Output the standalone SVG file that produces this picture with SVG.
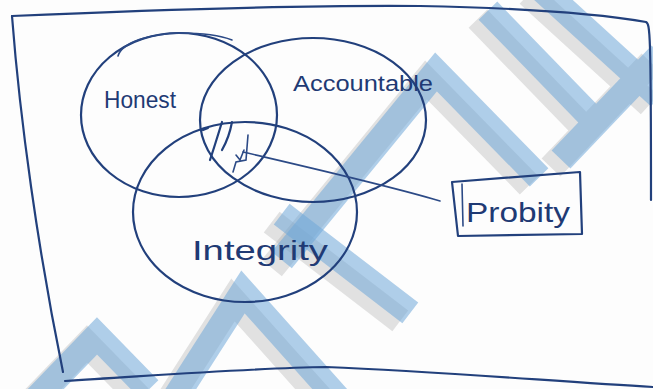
<svg xmlns="http://www.w3.org/2000/svg" width="653" height="389" viewBox="0 0 653 389">
  <defs>
    <style>
      .ink { fill: none; stroke: #22407c; stroke-width: 2.2; stroke-linecap: round; stroke-linejoin: round; }
      .thin { fill: none; stroke: #2c4a86; stroke-width: 1.6; stroke-linecap: round; }
      .label { font-family: "Liberation Sans", "DejaVu Sans", sans-serif; fill: #1f3a74; }
      .wm { stroke: #6fa8d9; stroke-opacity: 0.55; fill: none; stroke-linecap: square; stroke-linejoin: miter; stroke-width: 26; }
      .wg { stroke: #9a9a9a; stroke-opacity: 0.28; fill: none; stroke-linecap: square; stroke-linejoin: miter; stroke-width: 26; }
    </style>
    <g id="bands">
      <path d="M497 20 L592 118 M548 -5 L650 88 M652 64 L570 150"/>
      <path d="M290 250 L436 72 L530 168"/>
      <path d="M292 222 L400 305"/>
      <path d="M177 395 L243 292 L335 395"/>
      <path d="M40 395 L97 336 L140 380"/>
    </g>
  </defs>

  <rect width="653" height="389" fill="#fdfdfd"/>

  <!-- faint diagonal background stripes -->
  <g id="backdrop">
    <use href="#bands" class="wg" transform="translate(-10 8)"/>
    <use href="#bands" class="wm"/>
  </g>

  <!-- frame -->
  <g id="frame">
    <path class="ink" d="M12 16 C 150 10, 300 5, 420 6 C 520 8, 600 14, 646 22 C 650 24, 651 30, 651 200"/>
    <path class="ink" d="M12 16 C 20 120, 38 250, 63 372"/>
    <path class="ink" d="M65 381 C 150 376, 250 368, 326 367 C 450 372, 560 382, 653 387"/>
  </g>

  <!-- circles -->
  <g id="honest">
    <ellipse class="ink" cx="179" cy="115" rx="98" ry="82"/>
    <path class="thin" d="M118 56 C 122 42, 150 34, 180 33 C 205 33, 222 36, 232 40"/>
    <text class="label" x="104" y="108" font-size="24" textLength="72" lengthAdjust="spacingAndGlyphs">Honest</text>
  </g>
  <g id="accountable">
    <ellipse class="ink" cx="313" cy="120" rx="113" ry="82"/>
    <text class="label" x="293" y="91" font-size="22" textLength="140" lengthAdjust="spacingAndGlyphs">Accountable</text>
  </g>
  <g id="integrity">
    <ellipse class="ink" cx="245" cy="212" rx="112" ry="90"/>
    <text class="label" x="192" y="260" font-size="28" textLength="136" lengthAdjust="spacingAndGlyphs">Integrity</text>
  </g>

  <!-- shaded overlap -->
  <g id="overlap">
    <path class="ink" d="M208 128 L203 130"/>
    <path class="ink" d="M222 122 C 218 135, 214 148, 210 160"/>
    <path class="ink" d="M232 122 C 230 133, 226 143, 222 150"/>
    <path class="thin" d="M248 135 L246 160 L236 162 L233 172 M236 155 L240 160 L244 150"/>
  </g>

  <!-- probity -->
  <g id="probity">
    <path class="ink" d="M452 182 L 580 172 L 582 234 L 458 236 Z"/>
    <path class="thin" d="M462 184 L 463 226"/>
    <text class="label" x="466" y="222" font-size="28" textLength="104" lengthAdjust="spacingAndGlyphs">Probity</text>
  </g>

  <g id="connectors">
    <path class="thin" d="M243 152 C 320 170, 390 186, 440 201"/>
  </g>
</svg>
